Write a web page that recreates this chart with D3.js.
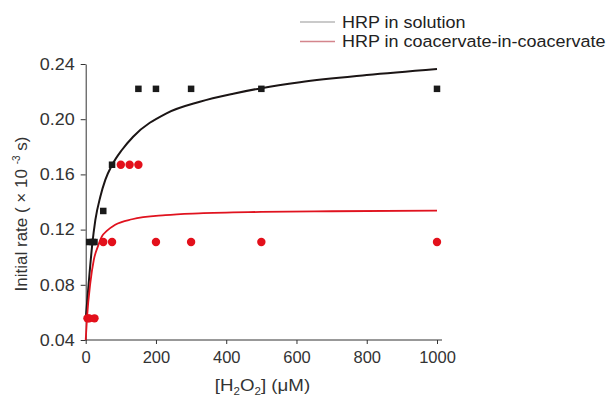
<!DOCTYPE html>
<html><head><meta charset="utf-8">
<script src="https://cdn.jsdelivr.net/npm/d3@7"></script>
<style>body{margin:0;background:#fff}svg{display:block}</style>
</head><body><svg id="c" width="610" height="403"></svg>
<script>
const xTicks=[0,200,400,600,800,1000];
const yTicks=[0.04,0.08,0.12,0.16,0.20,0.24];
const seriesNames=["HRP in solution","HRP in coacervate-in-coacervate"];
const solX=[10,20,25,50,75,150,200,300,500,1000];
const solY=[0.111,0.111,0.111,0.1335,0.167,0.222,0.222,0.222,0.222,0.222];
const cocX=[5,10,25,50,75,100,125,150,200,300,500,1000];
const cocY=[0.0557,0.0557,0.0557,0.111,0.111,0.167,0.167,0.167,0.111,0.111,0.111,0.111];
const solFitX=[1,8.5,18,27.5,41.6,55.8,75,103,135,230,325,420,500,610,800,1000];
const solFitY=[0.058,0.081,0.1076,0.127,0.1438,0.156,0.1668,0.1777,0.1873,0.2043,0.2127,0.2185,0.2225,0.2268,0.232,0.2364];
const cocFitX=[0,4,13,23,35,46,60,84,132,227,322,500,700,1000];
const cocFitY=[0.040,0.057,0.081,0.098,0.108,0.115,0.119,0.1235,0.1275,0.1305,0.1318,0.1328,0.1333,0.1338];

const svg=d3.select("#c");
const FONT="Liberation Sans, Arial, sans-serif";
const SX=1.09; // horizontal stretch of the reference lettering
const x=d3.scaleLinear().domain([0,1000]).range([85.7,437]);
const y=d3.scaleLinear().domain([0.04,0.24]).range([340,64]);
const axisColor="#333";

// axes
const gx=svg.append("g").attr("transform",`translate(0,${y(0.04)})`)
  .call(d3.axisBottom(x).tickValues(xTicks).tickSize(4).tickSizeOuter(0).tickPadding(7).tickFormat(d3.format("d")));
gx.select(".domain").attr("d",`M${x(0)},0H${x(1000)+5}`);
const gy=svg.append("g").attr("transform",`translate(${x(0)},0)`)
  .call(d3.axisLeft(y).tickValues(yTicks).tickSize(5).tickSizeOuter(0).tickPadding(5).tickFormat(d3.format(".2f")));
[gx,gy].forEach(g=>{
  g.selectAll(".domain,line").attr("stroke",axisColor).attr("stroke-width",1);
  g.selectAll("text").attr("fill","#333").attr("font-family",FONT).attr("font-size",16.5);
});
gy.selectAll("text").attr("transform",`scale(${SX},1)`).attr("x",-11/SX);

// fitted curves
const line=d3.line().x(d=>x(d[0])).y(d=>y(d[1])).curve(d3.curveMonotoneX);
svg.append("path").datum(solFitX.map((v,i)=>[v,solFitY[i]]))
  .attr("d",line).attr("fill","none").attr("stroke","#1b1515").attr("stroke-width",2);
svg.append("path").datum(cocFitX.map((v,i)=>[v,cocFitY[i]]))
  .attr("d",line).attr("fill","none").attr("stroke","#e0131f").attr("stroke-width",1.8);

// points
const sq=6.5;
svg.append("g").selectAll("rect").data(solX.map((v,i)=>[v,solY[i]])).join("rect")
  .attr("x",d=>x(d[0])-sq/2).attr("y",d=>y(d[1])-sq/2).attr("width",sq).attr("height",sq).attr("fill","#1a1a1a");
svg.append("g").selectAll("circle").data(cocX.map((v,i)=>[v,cocY[i]])).join("circle")
  .attr("cx",d=>x(d[0])).attr("cy",d=>y(d[1])).attr("r",4.2).attr("fill","#e3101b");

// legend
const legColors=["#b8b8b8","#d4858c"];
const leg=svg.append("g");
seriesNames.forEach((n,i)=>{
  const yy=22+i*19.5;
  leg.append("line").attr("x1",300).attr("x2",335).attr("y1",yy).attr("y2",yy)
    .attr("stroke",legColors[i]).attr("stroke-width",1.5);
  leg.append("text").attr("transform",`translate(342,${yy+5.5}) scale(${SX},1)`).text(n)
    .attr("font-family",FONT).attr("font-size",16.5).attr("fill","#222");
});

// axis titles
const xl=svg.append("text").attr("transform",`translate(262.5,391) scale(1.1,1)`).attr("text-anchor","middle")
  .attr("font-family",FONT).attr("font-size",17).attr("fill","#333");
xl.append("tspan").text("[H");
xl.append("tspan").text("2").attr("font-size",10.5).attr("dy",4);
xl.append("tspan").text("O").attr("dy",-4);
xl.append("tspan").text("2").attr("font-size",10.5).attr("dy",4);
xl.append("tspan").text("] (μM)").attr("dy",-4);

const yl=svg.append("text").attr("transform","translate(27,214) rotate(-90)").attr("text-anchor","middle")
  .attr("font-family",FONT).attr("font-size",17).attr("fill","#333");
yl.append("tspan").text("Initial rate ( × 10 ");
yl.append("tspan").text("-3").attr("font-size",10).attr("dy",-7.5);
yl.append("tspan").text(" s)").attr("dy",7.5);
</script></body></html>
